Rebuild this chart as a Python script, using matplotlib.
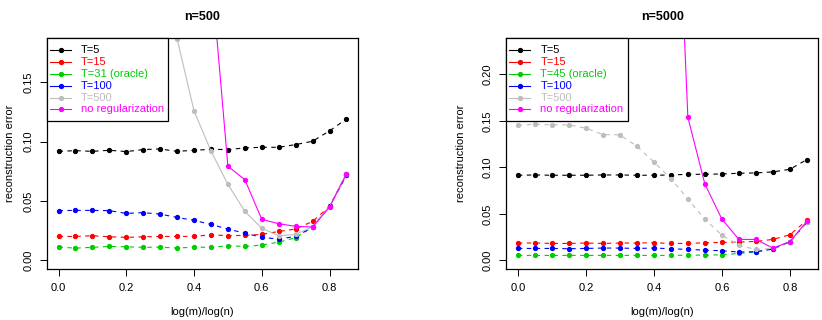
import matplotlib
matplotlib.use("Agg")
import matplotlib.pyplot as plt
from matplotlib.patches import Rectangle

plt.rcParams['font.family'] = ['Liberation Sans', 'DejaVu Sans']

x = [0.0, 0.05, 0.1, 0.15, 0.2, 0.25, 0.3, 0.35, 0.4, 0.45,
     0.5, 0.55, 0.6, 0.65, 0.7, 0.75, 0.8, 0.85]

# ---- n = 500 ----
a_T5 = [0.0918, 0.0924, 0.0918, 0.0927, 0.0916, 0.0933, 0.0938, 0.0918, 0.0927, 0.0935,
        0.0933, 0.0947, 0.0952, 0.0952, 0.0975, 0.1003, 0.1090, 0.1191]
a_T15 = [0.0202, 0.0202, 0.0208, 0.0199, 0.0194, 0.0199, 0.0202, 0.0202, 0.0202, 0.0216,
         0.0208, 0.0211, 0.0219, 0.0244, 0.0264, 0.0329, 0.0455, 0.0730]
a_Tor = [0.0112, 0.0104, 0.0110, 0.0118, 0.0115, 0.0110, 0.0112, 0.0104, 0.0112, 0.0110,
         0.0124, 0.0118, 0.0129, 0.0154, 0.0191, 0.0281, 0.0455, 0.0716]
a_T100 = [0.0419, 0.0421, 0.0421, 0.0419, 0.0396, 0.0402, 0.0390, 0.0362, 0.0337, 0.0303,
          0.0264, 0.0230, 0.0194, 0.0180, 0.0202, 0.0278, 0.0455, 0.0716]
a_T500 = [0.450, 0.445, 0.435, 0.415, 0.385, 0.345, 0.290, 0.1865, 0.1258, 0.0921,
          0.0640, 0.0413, 0.0270, 0.0208, 0.0219, 0.0284, 0.0452, 0.0728]
a_noreg = [0.95, 0.90, 0.85, 0.78, 0.70, 0.62, 0.52, 0.42, 0.33, 0.245,
           0.0792, 0.0680, 0.0346, 0.0309, 0.0287, 0.0281, 0.0449, 0.0730]

# ---- n = 5000 ----
b_T5 = [0.0916, 0.0919, 0.0916, 0.0916, 0.0916, 0.0919, 0.0919, 0.0916, 0.0916, 0.0919,
        0.0926, 0.0926, 0.0930, 0.0937, 0.0941, 0.0952, 0.0980, 0.1084]
b_T15 = [0.0187, 0.0187, 0.0183, 0.0183, 0.0187, 0.0183, 0.0187, 0.0187, 0.0190, 0.0183,
         0.0183, 0.0190, 0.0194, 0.0197, 0.0205, 0.0226, 0.0276, 0.0431]
b_Tor = [0.0054, 0.0054, 0.0054, 0.0054, 0.0054, 0.0054, 0.0054, 0.0054, 0.0054, 0.0054,
         0.0057, 0.0057, 0.0061, 0.0075, 0.0093, 0.0126, 0.0201, 0.0409]
b_T100 = [0.0129, 0.0129, 0.0129, 0.0126, 0.0129, 0.0133, 0.0133, 0.0129, 0.0133, 0.0126,
          0.0118, 0.0111, 0.0104, 0.0090, 0.0093, 0.0122, 0.0201, 0.0409]
b_T500 = [0.1454, 0.1465, 0.1458, 0.1458, 0.1422, 0.1354, 0.1350, 0.1228, 0.1059, 0.0880,
          0.0661, 0.0442, 0.0273, 0.0162, 0.0118, 0.0129, 0.0201, 0.0409]
b_noreg = [1.20, 1.10, 1.02, 0.95, 0.88, 0.82, 0.76, 0.70, 0.64, 0.584,
           0.1540, 0.0822, 0.0445, 0.0226, 0.0226, 0.0133, 0.0201, 0.0420]

colors = ['black', '#FF0000', '#00CD00', '#0000FF', '#BEBEBE', '#FF00FF']
DASH = (0, (4, 4))

panels = [
    dict(title='n=500', oracle='T=31 (oracle)',
         series=[a_T5, a_T15, a_Tor, a_T100, a_T500, a_noreg],
         styles=[DASH, DASH, DASH, DASH, '-', '-'],
         ylim=(0, 0.18), yticks=[0.0, 0.05, 0.10, 0.15],
         rect=[0.0572, 0.1594, 0.3783, 0.7219], ylab_x=0.006),
    dict(title='n=5000', oracle='T=45 (oracle)',
         series=[b_T5, b_T15, b_Tor, b_T100, b_T500, b_noreg],
         styles=[DASH, DASH, DASH, DASH, DASH, '-'],
         ylim=(0, 0.23), yticks=[0.0, 0.05, 0.10, 0.15, 0.20],
         rect=[0.616, 0.1594, 0.3796, 0.7219], ylab_x=None),
]

FS = 8

fig = plt.figure(figsize=(8.22, 3.2), dpi=100)

for p in panels:
    ax = fig.add_axes(p['rect'])
    labels = ['T=5', 'T=15', p['oracle'], 'T=100', 'T=500', 'no regularization']
    for ys, c, ls in zip(p['series'], colors, p['styles']):
        ax.plot(x, ys, color=c, lw=0.8, ls=ls, marker='o', ms=2.8,
                mec=c, mfc=c, clip_on=True)
    lo, hi = p['ylim']
    r = hi - lo
    ax.set_ylim(lo - 0.04 * r, hi + 0.04 * r)
    ax.set_xlim(-0.034, 0.884)
    ax.set_xticks([0.0, 0.2, 0.4, 0.6, 0.8])
    ax.set_xticklabels(['0.0', '0.2', '0.4', '0.6', '0.8'])
    ax.set_yticks(p['yticks'])
    ax.set_yticklabels(['%.2f' % v for v in p['yticks']], rotation=90, va='center')
    ax.tick_params(axis='both', direction='out', length=5, width=0.7,
                   labelsize=FS, pad=5)
    for s in ax.spines.values():
        s.set_linewidth(0.9)
    ax.set_xlabel('log(m)/log(n)', fontsize=FS, labelpad=10)
    if p['ylab_x'] is None:
        ax.set_ylabel('reconstruction error', fontsize=FS, labelpad=12)
    else:
        fig.text(p['ylab_x'], p['rect'][1] + p['rect'][3] / 2, 'reconstruction error',
                 fontsize=FS, rotation=90, ha='left', va='center')
    ax.set_title(p['title'], fontsize=9, fontweight='bold', pad=13)

    # legend box (R style), drawn in axes fraction coordinates
    T = ax.transAxes
    box_r, box_b = 0.389, 0.642
    ax.add_patch(Rectangle((0, box_b), box_r, 1 - box_b, transform=T,
                           facecolor='white', edgecolor='black', lw=0.9,
                           zorder=5, clip_on=False))
    y0, dy = 0.948, 0.0515
    for i, (lab, c) in enumerate(zip(labels, colors)):
        yy = y0 - i * dy
        ax.plot([0.0096, 0.077], [yy, yy], transform=T, color=c, lw=0.8,
                zorder=6, clip_on=False)
        ax.plot([0.0435], [yy], transform=T, color=c, marker='o', ms=2.8,
                zorder=6, clip_on=False)
        ax.text(0.109, yy, lab, transform=T, color=c, fontsize=FS,
                ha='left', va='center', zorder=7)

fig.savefig('out.png', dpi=100)
